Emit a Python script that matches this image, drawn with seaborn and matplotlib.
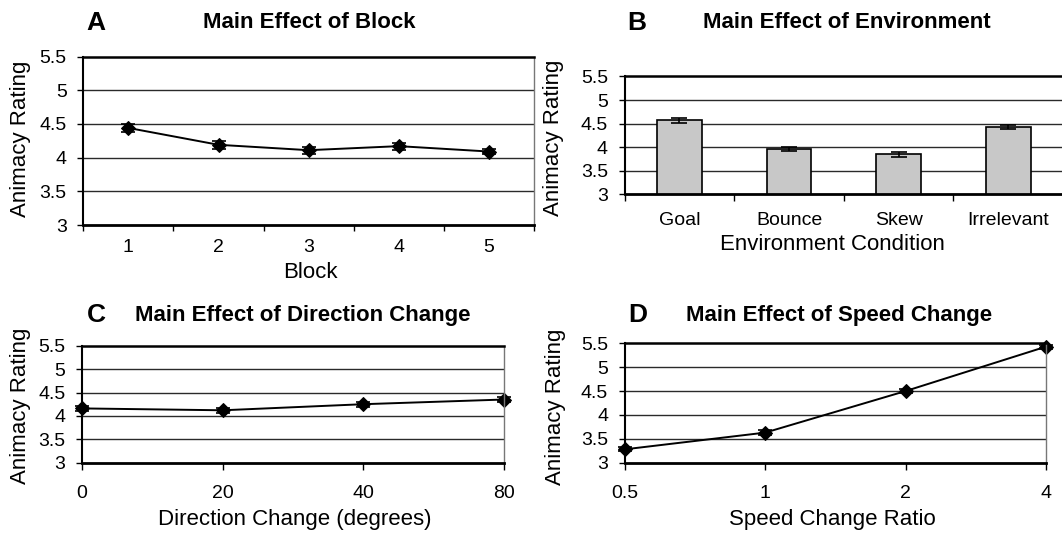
import matplotlib
matplotlib.use('Agg')
import matplotlib.pyplot as plt
import seaborn as sns
import numpy as np
import pandas as pd

# Panel data (means and standard errors)
blocks = ['1', '2', '3', '4', '5']
block_means = [4.44, 4.19, 4.11, 4.17, 4.09]
block_se = [0.06, 0.06, 0.05, 0.05, 0.04]

environments = ['Goal', 'Bounce', 'Skew', 'Irrelevant']
env_means = [4.57, 3.96, 3.85, 4.43]
env_se = [0.05, 0.05, 0.05, 0.05]

directions = ['0', '20', '40', '80']
dir_means = [4.16, 4.12, 4.25, 4.35]
dir_se = [0.05, 0.05, 0.05, 0.05]

speeds = ['0.5', '1', '2', '4']
speed_means = [3.28, 3.63, 4.50, 5.43]
speed_se = [0.04, 0.05, 0.04, 0.04]

yticks = [3, 3.5, 4, 4.5, 5, 5.5]
ytick_labels = ['3', '3.5', '4', '4.5', '5', '5.5']

sns.set_style('white')
plt.rcParams['font.family'] = ['Liberation Sans', 'DejaVu Sans']
plt.rcParams['text.color'] = 'black'
plt.rcParams['xtick.color'] = 'black'
plt.rcParams['ytick.color'] = 'black'
plt.rcParams['axes.labelcolor'] = 'black'

W, H = 1062, 533
fig = plt.figure(figsize=(W / 100, H / 100), dpi=100)


def box(left, right, top, bottom):
    return [left / W, 1 - bottom / H, (right - left) / W, (bottom - top) / H]


def style_axes(ax):
    ax.set_ylim(3, 5.5)
    ax.set_yticks(yticks)
    ax.set_yticklabels(ytick_labels)
    for y in yticks[1:-1]:
        ax.axhline(y, color='#2a2a2a', lw=1, zorder=0)
    ax.spines['top'].set_color('black')
    ax.spines['top'].set_linewidth(1.8)
    ax.spines['bottom'].set_color('black')
    ax.spines['bottom'].set_linewidth(2)
    ax.spines['left'].set_color('black')
    ax.spines['left'].set_linewidth(1.5)
    ax.spines['right'].set_color('#777777')
    ax.spines['right'].set_linewidth(1)
    ax.tick_params(axis='y', direction='out', length=4, width=1, left=True,
                   labelsize=14, pad=8, color='black')
    ax.tick_params(axis='x', labelsize=14, color='black')
    ax.set_xlabel('')
    ax.set_ylabel('')


def line_panel(ax, cats, means, se):
    df = pd.DataFrame({'x': cats, 'y': means})
    sns.lineplot(data=df, x='x', y='y', ax=ax, color='black', lw=1.4,
                 marker='D', markersize=7, markeredgecolor='black', clip_on=False)
    ax.errorbar(cats, means, yerr=se, fmt='none', ecolor='black',
                elinewidth=1.2, capsize=5, capthick=1.2, clip_on=False)


# A: Block
axA = fig.add_axes(box(83.3, 534, 56.5, 225))
line_panel(axA, blocks, block_means, block_se)
style_axes(axA)
axA.set_xlim(-0.5, 4.5)
axA.set_xticks(np.arange(len(blocks)))
axA.set_xticklabels(blocks)
axA.set_xticks(np.arange(len(blocks) + 1) - 0.5, minor=True)
axA.tick_params(axis='x', which='major', length=0, pad=10)
axA.tick_params(axis='x', which='minor', direction='out', length=4, width=1, bottom=True)

# B: Environment
axB = fig.add_axes(box(624.6, 1063, 76.5, 194.3))
sns.barplot(x=environments, y=env_means, ax=axB, color='#c8c8c8',
            edgecolor='black', linewidth=1.2, width=0.41, zorder=2)
axB.errorbar(environments, env_means, yerr=env_se, fmt='none', ecolor='black',
             elinewidth=1.2, capsize=6, capthick=1.2, zorder=3)
style_axes(axB)
axB.set_xlim(-0.5, 3.5)
axB.set_xticks(np.arange(len(environments)))
axB.set_xticklabels(environments)
axB.set_xticks(np.arange(len(environments) + 1) - 0.5, minor=True)
axB.tick_params(axis='x', which='major', length=0, pad=13)
axB.tick_params(axis='x', which='minor', direction='out', length=5, width=1, bottom=True)

# C: Direction change
axC = fig.add_axes(box(82, 504, 345.7, 462.7))
line_panel(axC, directions, dir_means, dir_se)
style_axes(axC)
axC.set_xlim(0, 3)
axC.set_xticks(np.arange(len(directions)))
axC.set_xticklabels(directions)
axC.tick_params(axis='x', direction='out', length=5, width=1, bottom=True, pad=11)

# D: Speed change
axD = fig.add_axes(box(624.8, 1046, 343.3, 462.7))
line_panel(axD, speeds, speed_means, speed_se)
style_axes(axD)
axD.set_xlim(0, 3)
axD.set_xticks(np.arange(len(speeds)))
axD.set_xticklabels(speeds)
axD.tick_params(axis='x', direction='out', length=5, width=1, bottom=True, pad=11)

# Panel letters and titles
panel_text = [
    ('A', 96, 23, 'Main Effect of Block', 309, 23),
    ('B', 637, 23, 'Main Effect of Environment', 847, 23),
    ('C', 96.5, 315, 'Main Effect of Direction Change', 303, 315),
    ('D', 637.7, 315, 'Main Effect of Speed Change', 839, 315),
]
for letter, lx, ly, title, tx, ty in panel_text:
    fig.text(lx / W, 1 - ly / H, letter, fontsize=19, fontweight='bold',
             ha='center', va='center')
    fig.text(tx / W, 1 - ty / H, title, fontsize=16, fontweight='bold',
             ha='center', va='center')

# Axis labels
for x, y in [(21, 139), (553, 138), (21, 406), (555, 407)]:
    fig.text(x / W, 1 - y / H, 'Animacy Rating', fontsize=16, rotation=90,
             ha='center', va='center')
for label, x, y in [('Block', 310, 272), ('Environment Condition', 832, 245),
                    ('Direction Change (degrees)', 295, 519),
                    ('Speed Change Ratio', 832, 519)]:
    fig.text(x / W, 1 - y / H, label, fontsize=16, ha='center', va='center')

fig.savefig('out.png', dpi=100)
